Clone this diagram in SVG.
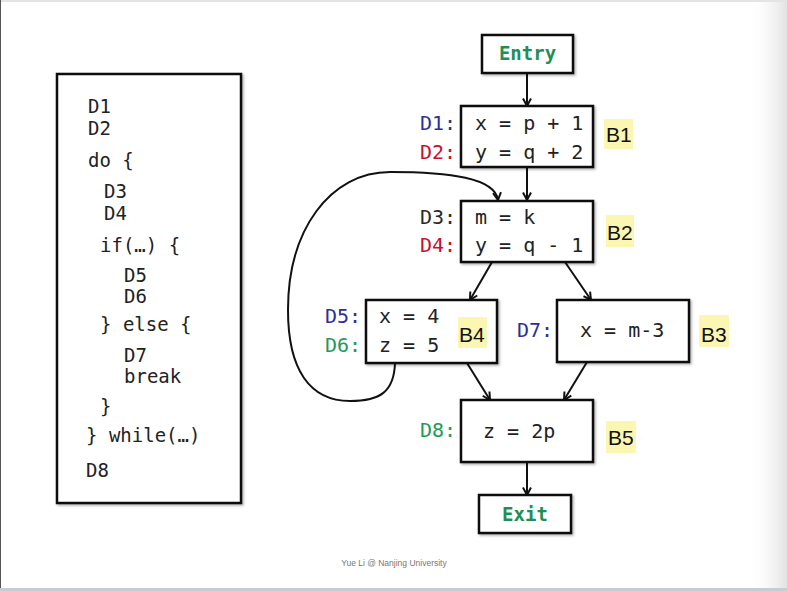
<svg xmlns="http://www.w3.org/2000/svg" width="787" height="591" viewBox="0 0 787 591">
<defs>
<style>
.box{fill:#fff;stroke:#111;stroke-width:2.5;filter:url(#sh)}
.code{font-family:"DejaVu Sans Mono","Liberation Mono",monospace;font-size:20px;fill:#222}
.src{font-family:"DejaVu Sans Mono","Liberation Mono",monospace;font-size:19px;fill:#222}
.blue{fill:#2a2f9a}
.red{fill:#c8102e}
.green{fill:#23995a}
.dark{fill:#2a2a2a}
.term{font-family:"DejaVu Sans Mono","Liberation Mono",monospace;font-size:19px;font-weight:bold;fill:#1f8f55}
.hl{fill:#fbf7b3}
.bl{font-family:"Liberation Sans",Arial,sans-serif;font-size:21px;fill:#111}
.edge{fill:none;stroke:#111;stroke-width:2;marker-end:url(#arr)}
</style>
<marker id="arr" viewBox="0 0 10 10" refX="9" refY="5" markerWidth="10" markerHeight="10" markerUnits="userSpaceOnUse" orient="auto">
<path d="M1.5,1 L9,5 L1.5,9" fill="none" stroke="#111" stroke-width="2"/>
</marker>
<filter id="sh" x="-10%" y="-10%" width="130%" height="130%">
<feDropShadow dx="1.5" dy="1.5" stdDeviation="1" flood-color="#000" flood-opacity="0.3"/>
</filter>
<linearGradient id="rg" x1="0" y1="0" x2="1" y2="0">
<stop offset="0" stop-color="#fff" stop-opacity="0"/>
<stop offset="1" stop-color="#e2e2e2"/>
</linearGradient>
</defs>
<rect x="0" y="0" width="787" height="591" fill="#fff"/>
<rect x="748" y="0" width="39" height="591" fill="url(#rg)"/>
<line x1="0" y1="1" x2="787" y2="1" stroke="#e4e4e4" stroke-width="2"/>
<line x1="0.5" y1="0" x2="0.5" y2="591" stroke="#555" stroke-width="1"/>
<line x1="0" y1="589.5" x2="787" y2="589.5" stroke="#c5ccd2" stroke-width="3"/>

<g id="source">
<rect x="57" y="74" width="184" height="429" fill="#fff" stroke="#111" stroke-width="2.5" filter="url(#sh)"/>
<text class="src" x="88" y="113">D1</text>
<text class="src" x="88" y="135">D2</text>
<text class="src" x="88" y="167">do {</text>
<text class="src" x="104" y="198">D3</text>
<text class="src" x="104" y="220">D4</text>
<text class="src" x="100" y="252">if(…) {</text>
<text class="src" x="124" y="282">D5</text>
<text class="src" x="124" y="303">D6</text>
<text class="src" x="100" y="331">} else {</text>
<text class="src" x="124" y="362">D7</text>
<text class="src" x="124" y="383">break</text>
<text class="src" x="100" y="413">}</text>
<text class="src" x="86" y="442">} while(…)</text>
<text class="src" x="86" y="477">D8</text>
</g>

<g id="connectors">
<line class="edge" x1="527" y1="73" x2="527" y2="106"/>
<line class="edge" x1="527" y1="167" x2="527" y2="200"/>
<line class="edge" x1="492" y1="262" x2="470" y2="300"/>
<line class="edge" x1="565" y1="262" x2="591" y2="300"/>
<line class="edge" x1="467" y1="363" x2="490" y2="400"/>
<line class="edge" x1="587" y1="362" x2="564" y2="400"/>
<line class="edge" x1="527" y1="462" x2="527" y2="495"/>
<path class="edge" d="M395,363 C394,392 380,401 350,401 C310,401 288,370 288,310 C288,230 330,172 390,172 C450,172 495,178 498,200"/>
</g>

<g id="entry">
<rect class="box" x="482" y="35" width="91" height="38"/>
<text class="term" x="527.5" y="60" text-anchor="middle">Entry</text>
</g>

<g id="b1">
<rect class="box" x="461" y="106" width="132" height="61"/>
<text class="code blue" x="420" y="130">D1:</text>
<text class="code red" x="420" y="159">D2:</text>
<text class="code" x="475" y="130">x = p + 1</text>
<text class="code" x="475" y="159">y = q + 2</text>
<rect class="hl" x="604" y="119" width="29" height="30"/>
<text class="bl" x="606" y="142">B1</text>
</g>

<g id="b2">
<rect class="box" x="461" y="201" width="132" height="61"/>
<text class="code dark" x="420" y="224">D3:</text>
<text class="code red" x="420" y="252">D4:</text>
<text class="code" x="475" y="224">m = k</text>
<text class="code" x="475" y="252">y = q - 1</text>
<rect class="hl" x="606" y="215" width="28" height="32"/>
<text class="bl" x="607" y="240">B2</text>
</g>

<g id="b4">
<rect class="box" x="366" y="300" width="131" height="63"/>
<text class="code blue" x="325" y="323">D5:</text>
<text class="code green" x="325" y="352">D6:</text>
<text class="code" x="379" y="323">x = 4</text>
<text class="code" x="379" y="352">z = 5</text>
<rect class="hl" x="458" y="317" width="29" height="31"/>
<text class="bl" x="459" y="342">B4</text>
</g>

<g id="b3">
<rect class="box" x="557" y="300" width="132" height="62"/>
<text class="code blue" x="517" y="337">D7:</text>
<text class="code" x="580" y="337">x = m-3</text>
<rect class="hl" x="699" y="315" width="30" height="32"/>
<text class="bl" x="701" y="342">B3</text>
</g>

<g id="b5">
<rect class="box" x="461" y="400" width="132" height="62"/>
<text class="code green" x="420" y="437">D8:</text>
<text class="code" x="483" y="438">z = 2p</text>
<rect class="hl" x="606" y="421" width="30" height="32"/>
<text class="bl" x="608" y="445">B5</text>
</g>

<g id="exit">
<rect class="box" x="479" y="495" width="92" height="38"/>
<text class="term" x="525" y="521" text-anchor="middle">Exit</text>
</g>

<text x="394" y="566" text-anchor="middle" font-family="Liberation Sans, Arial, sans-serif" font-size="8.5" fill="#777">Yue Li @ Nanjing University</text>
</svg>
